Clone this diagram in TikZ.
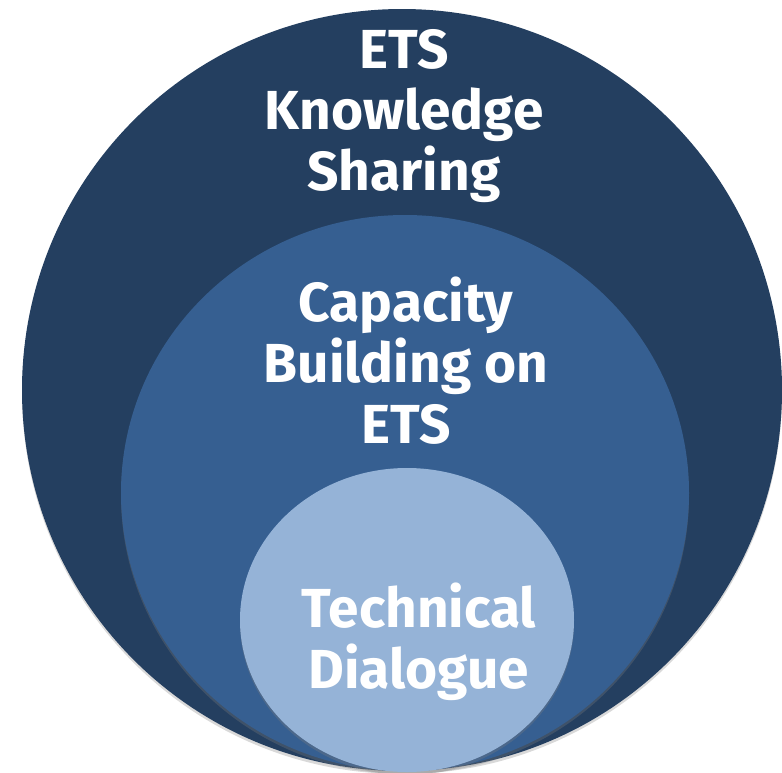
\documentclass[tikz,border=0pt]{standalone}
\usepackage{fontspec}
\setmainfont{Fira Sans}
\usetikzlibrary{shadows}

\definecolor{etsouter}{HTML}{243F60}
\definecolor{etsmiddle}{HTML}{365F91}
\definecolor{etsinner}{HTML}{95B3D7}

\tikzset{
  ring/.style={drop shadow={shadow xshift=0pt, shadow yshift=-3pt, opacity=0.3}},
  ringtext/.style={text=white, align=center, inner sep=0pt,
    font=\fontsize{55}{61}\selectfont\bfseries}
}

\begin{document}
\begin{tikzpicture}[x=1pt, y=-1pt]
    \useasboundingbox (0,0) rectangle (782,772);

    % Rings, from the outside in
    \fill[etsouter, ring] (402,390) ellipse [x radius=380, y radius=381];
    \fill[etsmiddle, ring] (405,493) ellipse [x radius=284, y radius=278];
    \fill[etsinner, ring] (407,620) ellipse [x radius=167, y radius=152];

    % Labels
    \node[ringtext] (sharing) at (404,116) {ETS\\Knowledge\\Sharing};
    \node[ringtext] (capacity) at (406,361) {Capacity\\Building on\\ETS};
    \node[ringtext] (dialogue) at (419,642) {Technical\\Dialogue};
\end{tikzpicture}
\end{document}
